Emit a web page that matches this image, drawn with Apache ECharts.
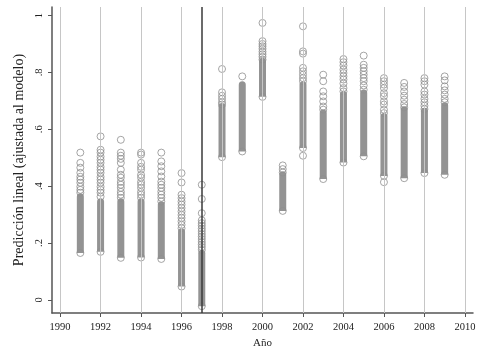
<!DOCTYPE html>
<html>
<head>
<meta charset="utf-8">
<script src="https://cdn.jsdelivr.net/npm/echarts@6/dist/echarts.min.js"></script>
<style>
  html, body { margin: 0; padding: 0; background: #fff; }
  #chart { width: 483px; height: 350px; }
</style>
</head>
<body>
<div id="chart"></div>
<script>
// Years with predictions
const years = [1991, 1992, 1993, 1994, 1995, 1996, 1997, 1998, 1999, 2000,
               2001, 2002, 2003, 2004, 2005, 2006, 2007, 2008, 2009];

// Lower and upper ends of the densely packed part of each year's column
const denseLow  = [0.165, 0.169, 0.148, 0.149, 0.144, 0.047, -0.022, 0.502, 0.522, 0.714,
                   0.313, 0.534, 0.425, 0.483, 0.505, 0.436, 0.428, 0.446, 0.440];
const denseHigh = [0.363, 0.345, 0.345, 0.345, 0.335, 0.240, 0.164, 0.680, 0.757, 0.839,
                   0.440, 0.757, 0.657, 0.722, 0.728, 0.645, 0.669, 0.663, 0.683];

// Isolated predictions outside the dense part, one list per year
const sparse = [
  [0.518, 0.482, 0.465, 0.447, 0.433, 0.423, 0.412, 0.398, 0.387, 0.377],
  [0.575, 0.528, 0.518, 0.504, 0.493, 0.482, 0.468, 0.458, 0.447, 0.433, 0.423, 0.412, 0.398, 0.387, 0.377, 0.363],
  [0.563, 0.518, 0.507, 0.496, 0.482, 0.458, 0.440, 0.430, 0.415, 0.405, 0.394, 0.380, 0.370, 0.359],
  [0.518, 0.511, 0.482, 0.468, 0.458, 0.440, 0.430, 0.415, 0.405, 0.394, 0.380, 0.370, 0.359],
  [0.518, 0.487, 0.470, 0.452, 0.434, 0.416, 0.405, 0.394, 0.381, 0.370, 0.359, 0.346],
  [0.446, 0.413, 0.370, 0.358, 0.346, 0.335, 0.323, 0.311, 0.299, 0.288, 0.276, 0.264, 0.252],
  [0.405, 0.355, 0.305, 0.280, 0.270, 0.261, 0.251, 0.242, 0.232, 0.223, 0.214, 0.204, 0.195, 0.186, 0.176],
  [0.812, 0.730, 0.718, 0.707, 0.695, 0.687],
  [0.786],
  [0.974, 0.910, 0.900, 0.892, 0.883, 0.873, 0.864, 0.855, 0.845],
  [0.473, 0.460, 0.448],
  [0.962, 0.874, 0.866, 0.816, 0.804, 0.792, 0.780, 0.769, 0.507],
  [0.792, 0.769, 0.733, 0.716, 0.698, 0.680, 0.669],
  [0.847, 0.836, 0.824, 0.810, 0.798, 0.786, 0.775, 0.761, 0.745, 0.733],
  [0.859, 0.827, 0.816, 0.804, 0.792, 0.780, 0.769, 0.754, 0.739],
  [0.780, 0.769, 0.757, 0.745, 0.727, 0.716, 0.698, 0.687, 0.669, 0.657, 0.414],
  [0.763, 0.749, 0.733, 0.718, 0.704, 0.689, 0.677],
  [0.780, 0.769, 0.757, 0.733, 0.722, 0.707, 0.695, 0.683, 0.671],
  [0.786, 0.772, 0.751, 0.737, 0.722, 0.707, 0.695]
];

// Axis ticks
const xTicks = [1990, 1992, 1994, 1996, 1998, 2000, 2002, 2004, 2006, 2008, 2010];
const yTicks = [0, 0.2, 0.4, 0.6, 0.8, 1];
const breakYear = 1997;

const serif = '"Liberation Serif", "DejaVu Serif", serif';
const axisColor = '#555';
const markColor = '#8e8e8e';
const radius = 3.5;

// Build drawing data
const bandData = years.map((y, i) => [y, denseLow[i], denseHigh[i]]);
const pointData = [];
years.forEach((y, i) => {
  pointData.push([y, denseLow[i]]);
  sparse[i].forEach(v => pointData.push([y, v]));
});

const chart = echarts.init(document.getElementById('chart'), null, { renderer: 'canvas' });

chart.setOption({
  animation: false,
  backgroundColor: '#fff',
  grid: { left: 52, right: 10, top: 7, bottom: 37, containLabel: false, outerBoundsMode: 'none' },
  xAxis: {
    type: 'value',
    min: 1989.6,
    max: 2010.4,
    name: 'Año',
    nameLocation: 'middle',
    nameGap: 24,
    nameTextStyle: { fontFamily: serif, fontSize: 11, color: '#222' },
    axisLine: { show: true, onZero: false, lineStyle: { color: axisColor, width: 1.5 } },
    axisTick: { show: true, length: 4, customValues: xTicks, lineStyle: { color: axisColor } },
    axisLabel: { customValues: xTicks, fontFamily: serif, fontSize: 10.5, color: '#222', margin: 9,
                 formatter: v => String(Math.round(v)) },
    splitLine: { show: false }
  },
  yAxis: {
    type: 'value',
    min: -0.046,
    max: 1.03,
    name: 'Predicción lineal (ajustada al modelo)',
    nameLocation: 'middle',
    nameRotate: 90,
    nameGap: 22,
    nameTextStyle: { fontFamily: serif, fontSize: 14, color: '#222' },
    axisLine: { show: true, lineStyle: { color: axisColor, width: 1.5 } },
    axisTick: { show: true, length: 4, customValues: yTicks, lineStyle: { color: axisColor } },
    axisLabel: {
      customValues: yTicks, rotate: 90, align: 'center', verticalAlign: 'bottom',
      fontFamily: serif, fontSize: 10.5, color: '#222', margin: 7,
      formatter: v => String(Math.round(v * 10) / 10).replace(/^0\./, '.')
    },
    splitLine: { show: false }
  },
  series: [
    {
      // vertical reference lines
      type: 'scatter',
      data: [],
      z: 1,
      markLine: {
        silent: true,
        symbol: 'none',
        animation: false,
        label: { show: false },
        lineStyle: { color: '#c6c6c6', width: 1, type: 'solid' },
        data: xTicks.map(x => ({ xAxis: x })).concat([
          { xAxis: breakYear, lineStyle: { color: '#3a3a3a', width: 1.5, type: 'solid' } }
        ])
      }
    },
    {
      // densely packed predictions
      type: 'custom',
      z: 2,
      data: bandData,
      renderItem: (params, api) => {
        const lo = api.coord([api.value(0), api.value(1)]);
        const hi = api.coord([api.value(0), api.value(2)]);
        return {
          type: 'rect',
          shape: { x: lo[0] - radius, y: hi[1] - radius, width: radius * 2,
                   height: lo[1] - hi[1] + radius, r: [radius, radius, 0, 0] },
          style: { fill: '#939393' }
        };
      }
    },
    {
      type: 'scatter',
      z: 3,
      symbol: 'circle',
      symbolSize: 7,
      data: pointData,
      itemStyle: { color: 'rgba(0,0,0,0)', borderColor: markColor, borderWidth: 1 }
    }
  ]
});
</script>
</body>
</html>
